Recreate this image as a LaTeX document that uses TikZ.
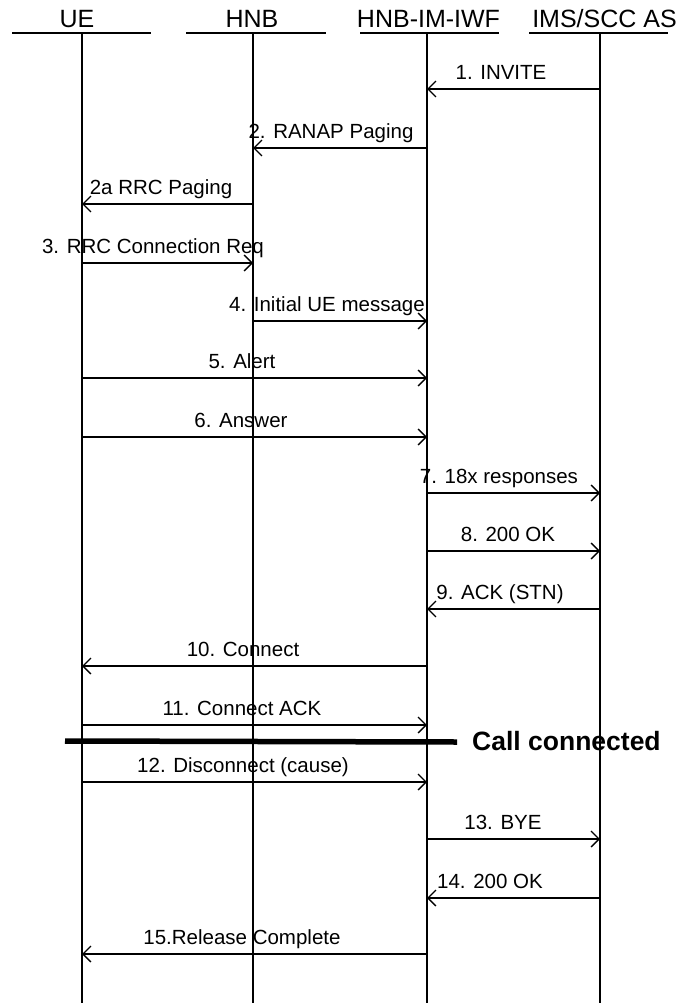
\documentclass[tikz,border=0pt]{standalone}
\usepackage{fontspec}
\setmainfont{Liberation Sans}
\usetikzlibrary{arrows.meta}
\tikzset{
  life/.style={line width=1.3pt},
  headline/.style={line width=1.5pt},
  msg/.style={line width=1.3pt, -{Straight Barb[length=8pt,width=16pt,line width=1.3pt]}},
  lbl/.style={anchor=base, inner sep=0pt, font=\fontsize{20.5}{24}\selectfont},
  hdr/.style={anchor=base, inner sep=0pt, font=\fontsize{25}{30}\selectfont},
  banner/.style={anchor=base west, inner sep=0pt, font=\fontsize{26.5}{30}\selectfont\bfseries},
  sepline/.style={line width=5.5pt},
}
\begin{document}
\begin{tikzpicture}[x=1pt,y=-1pt]
\useasboundingbox (0,0) rectangle (684,1003);
% headers
\node[hdr] (tUE)  at (77,28)    {UE};
\node[hdr] (tHNB) at (252,28)   {HNB};
\node[hdr] (tIWF) at (428.5,28) {HNB-IM-IWF};
\node[hdr] (tIMS) at (604.5,28) {IMS/SCC AS};
\coordinate (hUEl) at (12,33);   \coordinate (hUEr) at (151,33);
\coordinate (hHNBl) at (186,33); \coordinate (hHNBr) at (326,33);
\coordinate (hIWFl) at (360,33); \coordinate (hIWFr) at (499,33);
\coordinate (hIMSl) at (529,33); \coordinate (hIMSr) at (668,33);
\draw[headline] (hUEl) -- (hUEr);
\draw[headline] (hHNBl) -- (hHNBr);
\draw[headline] (hIWFl) -- (hIWFr);
\draw[headline] (hIMSl) -- (hIMSr);
% lifelines
\coordinate (UEt) at (82,33);   \coordinate (UEb) at (82,1003);
\coordinate (HNBt) at (253,33); \coordinate (HNBb) at (253,1003);
\coordinate (IWFt) at (427,33); \coordinate (IWFb) at (427,1003);
\coordinate (IMSt) at (600,33); \coordinate (IMSb) at (600,1003);
\draw[life] (UEt) -- (UEb);
\draw[life] (HNBt) -- (HNBb);
\draw[life] (IWFt) -- (IWFb);
\draw[life] (IMSt) -- (IMSb);
% messages
\foreach \n/\y/\xa/\xb/\lx/\txt in {
  1/89/600/427/501/{1. INVITE},
  2/148/427/253/331/{2. RANAP Paging},
  2a/204/253/82/161/{2a RRC Paging},
  3/263/82/253/153/{3. RRC Connection Req},
  4/321/253/427/327/{4. Initial UE message},
  5/378/82/427/242/{5. Alert},
  6/437/82/427/241/{6. Answer},
  7/493/427/600/499/{7. 18x responses},
  8/551/427/600/508/{8. 200 OK},
  9/609/600/427/500/{9. ACK (STN)},
  10/666/427/82/243/{10. Connect},
  11/725/82/427/242/{11. Connect ACK},
  12/782/82/427/243/{12. Disconnect (cause)},
  13/839/427/600/503/{13. BYE},
  14/898/600/427/490/{14. 200 OK},
  15/954/427/82/242/{15.Release Complete}}{
  \coordinate (ms\n) at (\xa,\y);
  \coordinate (me\n) at (\xb,\y);
  \draw[msg] (ms\n) -- (me\n);
  \node[lbl] (l\n) at (\lx,\y-9.5) {\txt};
}
% call connected
\coordinate (cc1) at (65,741);
\coordinate (cc2) at (457,742);
\draw[sepline] (cc1) -- (cc2);
\node[banner] (cc) at (472,750) {Call connected};
\end{tikzpicture}
\end{document}
